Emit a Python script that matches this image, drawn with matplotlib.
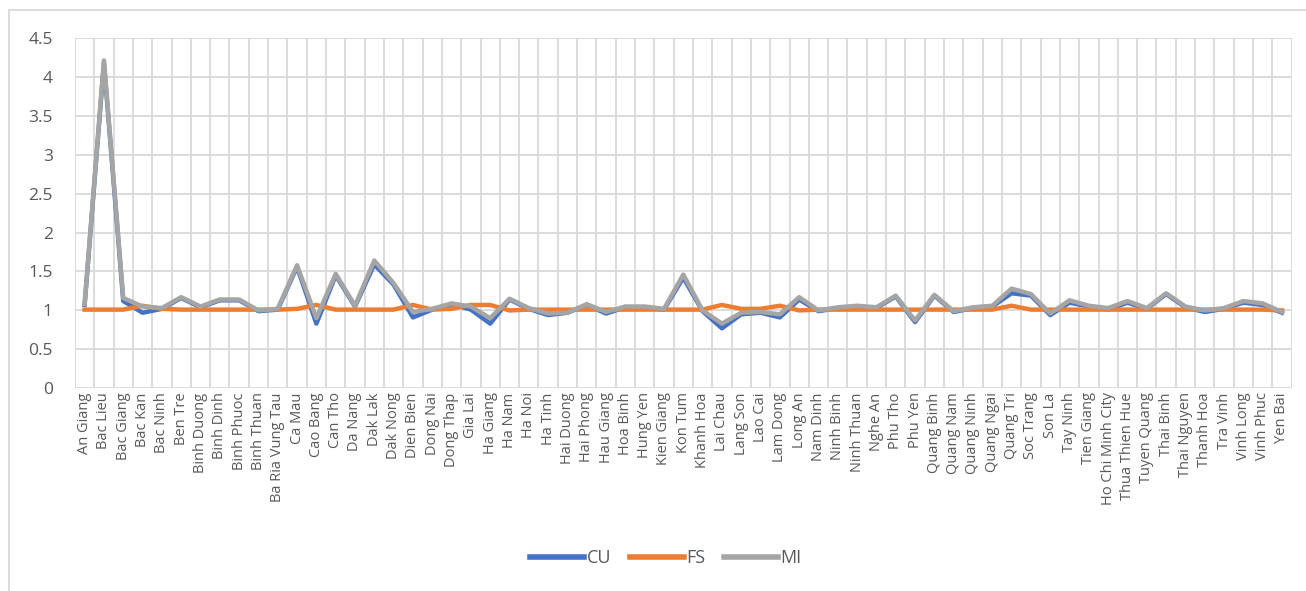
import matplotlib.pyplot as plt
from matplotlib.patches import Rectangle

# Provinces along the x axis
provinces = [
    "An Giang", "Bac Lieu", "Bac Giang", "Bac Kan", "Bac Ninh", "Ben Tre",
    "Binh Duong", "Binh Dinh", "Binh Phuoc", "Binh Thuan", "Ba Ria Vung Tau",
    "Ca Mau", "Cao Bang", "Can Tho", "Da Nang", "Dak Lak", "Dak Nong",
    "Dien Bien", "Dong Nai", "Dong Thap", "Gia Lai", "Ha Giang", "Ha Nam",
    "Ha Noi", "Ha Tinh", "Hai Duong", "Hai Phong", "Hau Giang", "Hoa Binh",
    "Hung Yen", "Kien Giang", "Kon Tum", "Khanh Hoa", "Lai Chau", "Lang Son",
    "Lao Cai", "Lam Dong", "Long An", "Nam Dinh", "Ninh Binh", "Ninh Thuan",
    "Nghe An", "Phu Tho", "Phu Yen", "Quang Binh", "Quang Nam", "Quang Ninh",
    "Quang Ngai", "Quang Tri", "Soc Trang", "Son La", "Tay Ninh", "Tien Giang",
    "Ho Chi Minh City", "Thua Thien Hue", "Tuyen Quang", "Thai Binh",
    "Thai Nguyen", "Thanh Hoa", "Tra Vinh", "Vinh Long", "Vinh Phuc", "Yen Bai",
]

cu = [
    1.07, 4.18, 1.12, 0.97, 1.02, 1.16, 1.04, 1.13, 1.13, 0.99, 1.01,
    1.56, 0.83, 1.45, 1.05, 1.59, 1.33, 0.91, 1.01, 1.08, 1.01, 0.83,
    1.14, 1.02, 0.94, 0.97, 1.07, 0.96, 1.04, 1.04, 1.01, 1.42, 0.99,
    0.77, 0.95, 0.97, 0.91, 1.14, 0.99, 1.03, 1.05, 1.03, 1.18, 0.85,
    1.19, 0.98, 1.03, 1.05, 1.22, 1.19, 0.94, 1.10, 1.05, 1.01, 1.10,
    1.02, 1.21, 1.04, 0.98, 1.02, 1.10, 1.07, 0.97,
]

fs = [
    1.01, 1.01, 1.01, 1.06, 1.02, 1.01, 1.01, 1.01, 1.01, 1.01, 1.01,
    1.02, 1.07, 1.01, 1.01, 1.01, 1.01, 1.07, 1.01, 1.02, 1.07, 1.07,
    1.00, 1.01, 1.01, 1.01, 1.01, 1.01, 1.01, 1.01, 1.01, 1.01, 1.01,
    1.07, 1.02, 1.02, 1.06, 1.00, 1.01, 1.01, 1.01, 1.01, 1.01, 1.01,
    1.01, 1.01, 1.01, 1.01, 1.06, 1.01, 1.01, 1.01, 1.01, 1.01, 1.01,
    1.01, 1.01, 1.01, 1.01, 1.01, 1.01, 1.01, 1.00,
]

mi = [
    1.08, 4.21, 1.16, 1.05, 1.03, 1.17, 1.05, 1.14, 1.14, 1.00, 1.02,
    1.58, 0.90, 1.47, 1.06, 1.64, 1.35, 0.98, 1.02, 1.09, 1.05, 0.90,
    1.15, 1.03, 0.96, 0.97, 1.08, 0.98, 1.05, 1.05, 1.02, 1.46, 1.00,
    0.83, 0.97, 0.98, 0.95, 1.17, 1.00, 1.04, 1.06, 1.04, 1.19, 0.87,
    1.20, 0.99, 1.04, 1.06, 1.28, 1.21, 0.96, 1.13, 1.06, 1.03, 1.12,
    1.03, 1.22, 1.05, 1.00, 1.03, 1.12, 1.09, 0.98,
]

plt.rcParams["font.family"] = ["Open Sans", "DejaVu Sans"]

fig = plt.figure(figsize=(13.06, 5.91), dpi=100)
ax = fig.add_axes([0.0574, 0.343, 0.9316, 0.593])

x = list(range(len(provinces)))
ax.plot(x, cu, color="#4472C4", lw=3.2, label="CU", solid_joinstyle="round", zorder=3)
ax.plot(x, fs, color="#ED7D31", lw=3.2, label="FS", solid_joinstyle="round", zorder=4)
ax.plot(x, mi, color="#A5A5A5", lw=3.2, label="MI", solid_joinstyle="round", zorder=5)

ax.set_xlim(-0.5, len(provinces) - 0.5)
ax.set_ylim(0, 4.5)
ax.set_yticks([0, 0.5, 1, 1.5, 2, 2.5, 3, 3.5, 4, 4.5])
ax.set_yticklabels(["0", "0.5", "1", "1.5", "2", "2.5", "3", "3.5", "4", "4.5"],
                   fontsize=12.5, color="#595959")
ax.set_xticks(x)
ax.set_xticklabels(provinces, rotation=90, fontsize=10.5, color="#595959")
ax.set_xticks([i - 0.5 for i in range(len(provinces) + 1)], minor=True)

ax.tick_params(axis="both", which="both", length=0)
ax.tick_params(axis="y", pad=16)
ax.tick_params(axis="x", pad=3)
ax.grid(axis="y", which="major", color="#D9D9D9", lw=1.3)
ax.grid(axis="x", which="minor", color="#D9D9D9", lw=1.3)
ax.set_axisbelow(True)
for side in ["top", "right", "left", "bottom"]:
    ax.spines[side].set_visible(False)

leg = fig.legend(loc="center", bbox_to_anchor=(0.51, 0.056), ncol=3, frameon=False,
                 fontsize=13, handlelength=3.0, columnspacing=1.0, handletextpad=0.15)
for t in leg.get_texts():
    t.set_color("#595959")
for h in leg.get_lines():
    h.set_linewidth(4)

# thin chart border
fig.patches.append(Rectangle((0.007, -0.05), 1.1, 1.033, transform=fig.transFigure,
                             fill=False, edgecolor="#D9D9D9", lw=1.3))

fig.savefig("out.png", dpi=100)
